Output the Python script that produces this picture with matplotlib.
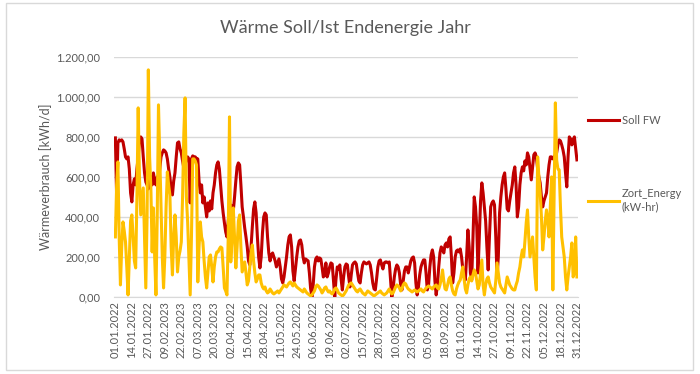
import matplotlib
matplotlib.use("Agg")
import matplotlib.pyplot as plt
from matplotlib.patches import Rectangle
from matplotlib.ticker import FuncFormatter, MultipleLocator

# daily values, one row per 13-day tick interval
soll_fw = [
    795, 500, 770, 785, 780, 785, 775, 740, 700, 690, 700, 640, 520,
    475, 560, 590, 560, 640, 700, 780, 800, 790, 700, 620, 575, 560,
    540, 580, 600, 560, 620, 580, 560, 600, 580, 640, 700, 720, 735,
    730, 720, 690, 640, 600, 540, 510, 580, 620, 700, 770, 775, 740,
    720, 680, 645, 660, 690, 700, 690, 470, 690, 705, 700, 700, 690,
    690, 580, 520, 560, 470, 500, 450, 400, 470, 430, 480, 440, 520,
    560, 620, 660, 675, 640, 560, 480, 420, 370, 325, 300, 380, 440,
    460, 450, 430, 500, 580, 650, 670, 660, 560, 450, 400, 345, 300,
    250, 180, 160, 250, 350, 440, 475, 420, 300, 200, 145, 200, 320,
    400, 420, 410, 300, 220, 180, 210, 220, 200, 180, 150, 170, 190,
    150, 90, 70, 100, 150, 200, 260, 300, 310, 250, 130, 80, 140,
    200, 250, 280, 285, 260, 200, 170, 190, 185, 180, 120, 40, 0,
    60, 150, 190, 200, 180, 195, 190, 150, 100, 110, 170, 100, 120,
    150, 170, 165, 80, 0, 90, 150, 140, 160, 90, 35, 100, 150,
    165, 160, 100, 50, 110, 160, 170, 175, 165, 120, 80, 70, 120,
    160, 175, 170, 165, 170, 175, 160, 120, 70, 40, 35, 90, 150,
    180, 185, 160, 140, 170, 175, 175, 170, 175, 90, 0, 40, 100,
    140, 160, 150, 120, 60, 35, 80, 130, 150, 150, 120, 150, 180,
    195, 200, 170, 70, 10, 50, 110, 150, 170, 185, 185, 120, 35,
    60, 150, 210, 235, 200, 80, 10, 60, 150, 220, 250, 240, 220,
    260, 270, 250, 290, 300, 200, 70, 120, 200, 230, 235, 225, 240,
    200, 140, 100, 85, 200, 335, 250, 120, 85, 300, 500, 450, 350,
    120, 300, 480, 570, 520, 450, 380, 250, 135, 300, 450, 470, 480,
    460, 300, 100, 200, 420, 500, 560, 600, 620, 540, 440, 430, 480,
    520, 560, 620, 650, 560, 400, 450, 560, 620, 650, 630, 680, 660,
    720, 700, 640, 585, 650, 710, 720, 700, 640, 600, 570, 500, 450,
    480, 500, 520, 600, 660, 700, 700, 690, 700, 710, 720, 760, 785,
    780, 760, 735, 700, 620, 550, 700, 800, 790, 760, 785, 800, 740,
    685,
]

zort_energy = [
    300, 560, 675, 300, 60, 250, 375, 330, 275, 150, 10, 200, 380,
    410, 300, 180, 145, 500, 945, 600, 410, 480, 545, 300, 45, 400,
    1135, 700, 545, 225, 445, 200, 10, 400, 960, 700, 460, 200, 45,
    200, 450, 625, 560, 510, 250, 110, 300, 410, 300, 125, 200, 230,
    275, 500, 820, 995, 500, 375, 200, 10, 300, 690, 690, 680, 660,
    75, 250, 375, 300, 275, 180, 100, 45, 120, 200, 210, 150, 75,
    150, 200, 225, 225, 240, 250, 245, 150, 45, 30, 10, 300, 900,
    175, 300, 445, 300, 145, 250, 380, 410, 250, 125, 150, 175, 120,
    60, 80, 150, 220, 260, 180, 120, 75, 90, 110, 110, 70, 50,
    40, 50, 30, 20, 25, 40, 30, 20, 15, 20, 25, 30, 20,
    30, 40, 50, 60, 55, 50, 60, 70, 75, 65, 55, 70, 60,
    50, 45, 40, 35, 30, 25, 40, 30, 20, 15, 10, 5, 10,
    20, 30, 50, 60, 55, 45, 35, 20, 30, 45, 50, 35, 25,
    30, 20, 15, 25, 40, 45, 35, 20, 15, 10, 5, 10, 20,
    30, 45, 60, 65, 70, 60, 50, 40, 30, 25, 35, 40, 30,
    20, 15, 10, 20, 30, 25, 20, 15, 10, 5, 10, 15, 20,
    25, 30, 20, 15, 10, 15, 20, 30, 40, 25, 15, 20, 35,
    50, 60, 55, 45, 30, 40, 60, 70, 65, 50, 40, 35, 30,
    25, 30, 35, 30, 25, 30, 35, 40, 30, 25, 35, 45, 50,
    55, 50, 45, 40, 50, 55, 60, 45, 40, 60, 90, 135, 80,
    40, 35, 60, 90, 100, 60, 30, 15, 10, 40, 60, 75, 85,
    120, 150, 90, 40, 20, 60, 90, 100, 80, 110, 135, 120, 80,
    40, 60, 120, 185, 60, 10, 60, 90, 100, 70, 50, 40, 30,
    20, 80, 170, 120, 70, 50, 40, 30, 20, 60, 100, 80, 60,
    50, 40, 35, 35, 60, 80, 120, 150, 200, 235, 200, 280, 370,
    435, 300, 200, 250, 300, 200, 100, 35, 700, 600, 520, 400, 235,
    300, 380, 435, 380, 300, 450, 600, 35, 500, 970, 685, 640, 635,
    450, 300, 250, 200, 100, 35, 100, 150, 200, 270, 100, 120, 300,
    100,
]

tick_labels = [
    "01.01.2022", "14.01.2022", "27.01.2022", "09.02.2023", "22.02.2023",
    "07.03.2023", "20.03.2023", "02.04.2022", "15.04.2022", "28.04.2022",
    "11.05.2022", "24.05.2022", "06.06.2022", "19.06.2022", "02.07.2022",
    "15.07.2022", "28.07.2022", "10.08.2022", "23.08.2022", "05.09.2022",
    "18.09.2022", "01.10.2022", "14.10.2022", "27.10.2022", "09.11.2022",
    "22.11.2022", "05.12.2022", "18.12.2022", "31.12.2022",
]

plt.rcParams['font.family'] = ['Lato', 'DejaVu Sans']
grey = '#595959'

fig = plt.figure(figsize=(7, 3.74), dpi=100)
fig.patches.append(Rectangle((0.008, 0.01), 0.982, 0.982, transform=fig.transFigure,
                             fill=False, edgecolor='#d9d9d9', linewidth=1))

ax = fig.add_axes([0.163, 0.206, 0.663, 0.642])
days = list(range(len(soll_fw)))
ax.plot(days, soll_fw, color='#C00000', linewidth=2.2, label='Soll FW', zorder=3)
ax.plot(days, zort_energy, color='#FFC000', linewidth=2.2, label='Zort_Energy\n(kW-hr)', zorder=4)

ax.set_ylim(0, 1200)
ax.set_xlim(-1, len(days))
ax.yaxis.set_major_locator(MultipleLocator(200))

def de_fmt(v, pos):
    s = f"{v:,.2f}"
    return s.replace(',', 'X').replace('.', ',').replace('X', '.')

ax.yaxis.set_major_formatter(FuncFormatter(de_fmt))
ax.set_xticks(list(range(0, len(days), 13)))
ax.set_xticklabels(tick_labels, rotation=90)
ax.tick_params(axis='both', labelsize=8, colors=grey, length=0)
ax.tick_params(axis='x', pad=3)
ax.tick_params(axis='y', pad=10)

ax.grid(axis='y', color='#d9d9d9', linewidth=1)
ax.set_axisbelow(True)
for side in ['top', 'right', 'left']:
    ax.spines[side].set_visible(False)
ax.spines['bottom'].set_color('#d9d9d9')

ax.set_ylabel('Wärmeverbrauch [kWh/d]', fontsize=9, color=grey, labelpad=3)
fig.text(0.493, 0.925, 'Wärme Soll/Ist Endenergie Jahr', ha='center', va='center',
         fontsize=13, color=grey)

leg = ax.legend(loc='upper left', bbox_to_anchor=(1.0, 0.80), frameon=False,
                fontsize=8, labelcolor=grey, handlelength=2.8, labelspacing=5.6,
                handletextpad=0.2)
for line in leg.get_lines():
    line.set_linewidth(2.2)

fig.savefig('out.png', dpi=100, facecolor='white')
